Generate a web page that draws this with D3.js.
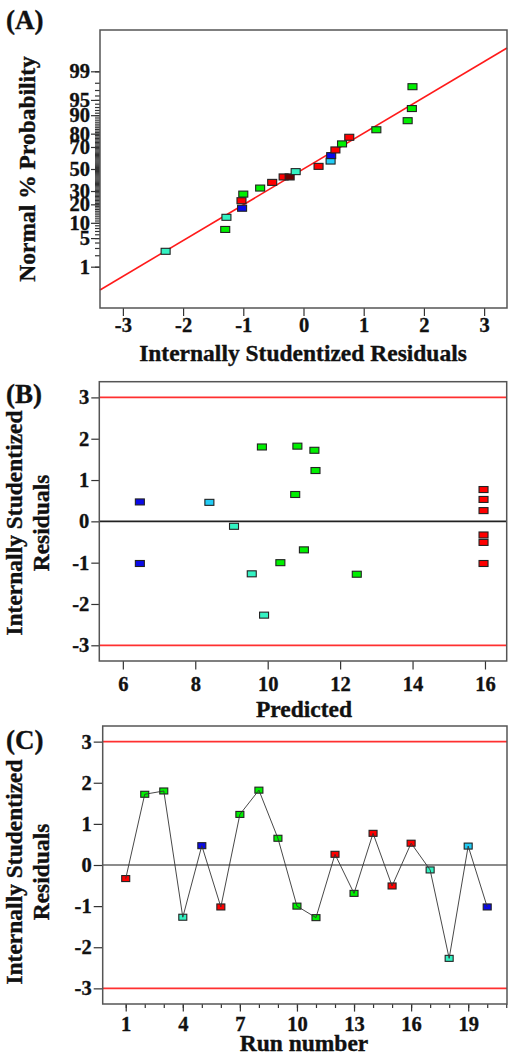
<!DOCTYPE html>
<html>
<head>
<meta charset="utf-8">
<script src="https://cdn.jsdelivr.net/npm/d3@7"></script>
<style>
  body { margin: 0; background: #fff; }
  text { font-family: "Liberation Serif", "Times New Roman", serif; font-weight: bold; fill: #111;
         stroke: #111; stroke-width: 0.35px; }
</style>
</head>
<body>
<svg id="chart" width="508" height="1062"></svg>
<script>
// run data, 20 runs
var runs      = d3.range(1, 21);
var predicted = [15.96, 11.29, 9.84, 9.56, 6.47, 15.96, 11.32, 10.82, 10.76, 10.35,
                 12.46, 15.96, 11.0, 15.96, 15.96, 15.96, 9.07, 9.90, 8.39, 6.47];
var residual  = [-0.33, 1.72, 1.80, -1.27, 0.47, -1.02, 1.23, 1.82, 0.65, -1.00,
                 -1.28, 0.26, -0.69, 0.77, -0.51, 0.53, -0.12, -2.27, 0.46, -1.02];
var runColor  = ["red", "green", "green", "aqua", "blue", "red", "green", "green", "green", "green",
                 "green", "red", "green", "red", "red", "red", "aqua", "aqua", "sky", "blue"];

// normal plot points (residual, % probability) as read
var normRes  = [-2.29, -1.30, -1.28, -1.02, -1.03, -1.00, -0.72, -0.52, -0.33, -0.23, -0.13,
                0.25, 0.45, 0.46, 0.53, 0.64, 0.76, 1.21, 1.73, 1.80, 1.81];
var normProb = [2.5, 7.5, 12.5, 17.5, 22.5, 27.5, 32.5, 37.5, 42.5, 42.5, 47.5,
                52.5, 57.5, 62.5, 67.5, 72.5, 77.5, 82.5, 87.5, 92.5, 97.5];
var normCol  = ["aqua", "green", "aqua", "blue", "red", "green", "green", "red", "red", "dark", "aqua",
                "red", "sky", "blue", "red", "green", "red", "green", "green", "green", "green"];
var fitRes = [-3.38, 3.38];
var fitZ   = [-2.88, 2.88];

var probMajor = [1, 5, 10, 20, 30, 50, 70, 80, 90, 95, 99];
var probMinor = d3.range(1, 100);
var resTicks  = [-3, -2, -1, 0, 1, 2, 3];
var predTicks = [6, 8, 10, 12, 14, 16];
var runMajor  = [1, 4, 7, 10, 13, 16, 19];
var limits    = [-3, 3];

var fills = { red: "#ff0000", green: "#00f000", aqua: "#33f2c2", blue: "#0a0ae8", sky: "#22ccf5", dark: "#6a0000" };

// inverse normal cdf (Acklam)
function probit(p) {
  var a = [-3.969683028665376e+01, 2.209460984245205e+02, -2.759285104469687e+02, 1.383577518672690e+02, -3.066479806614716e+01, 2.506628277459239e+00];
  var b = [-5.447609879822406e+01, 1.615858368580409e+02, -1.556989798598866e+02, 6.680131188771972e+01, -1.328068155288572e+01];
  var c = [-7.784894002430293e-03, -3.223964580411365e-01, -2.400758277161838e+00, -2.549732539343734e+00, 4.374664141464968e+00, 2.938163982698783e+00];
  var d = [7.784695709041462e-03, 3.224671290700398e-01, 2.445134137142996e+00, 3.754408661907416e+00];
  var pl = 0.02425, q, r;
  if (p < pl) {
    q = Math.sqrt(-2 * Math.log(p));
    return (((((c[0]*q+c[1])*q+c[2])*q+c[3])*q+c[4])*q+c[5]) / ((((d[0]*q+d[1])*q+d[2])*q+d[3])*q+1);
  }
  if (p > 1 - pl) {
    q = Math.sqrt(-2 * Math.log(1 - p));
    return -(((((c[0]*q+c[1])*q+c[2])*q+c[3])*q+c[4])*q+c[5]) / ((((d[0]*q+d[1])*q+d[2])*q+d[3])*q+1);
  }
  q = p - 0.5; r = q * q;
  return (((((a[0]*r+a[1])*r+a[2])*r+a[3])*r+a[4])*r+a[5])*q / (((((b[0]*r+b[1])*r+b[2])*r+b[3])*r+b[4])*r+1);
}

var plain = function(d) { return String(d); };  // hyphen, not unicode minus
var tickFs = 20.5;

var svg = d3.select("#chart");
svg.append("rect").attr("width", 508).attr("height", 1062).attr("fill", "#fff");

function styleAxis(g, fs) {
  g.select(".domain").remove();
  g.selectAll(".tick line").attr("stroke", "#333").attr("stroke-width", 1.2);
  g.selectAll(".tick text").style("font-size", fs + "px").attr("fill", "#111");
}

function frame(x0, x1, y0, y1) {
  svg.append("rect").attr("x", x0).attr("y", y0).attr("width", x1 - x0).attr("height", y1 - y0)
    .attr("fill", "none").attr("stroke", "#555").attr("stroke-width", 1.5);
}

function marker(sel, x, y, col, w, h) {
  sel.append("rect")
    .attr("x", x - w / 2).attr("y", y - h / 2).attr("width", w).attr("height", h)
    .attr("fill", fills[col]).attr("stroke", "#222").attr("stroke-width", 1.1);
}

function yTitle(cx, cy, lines) {
  var t = svg.append("text").attr("transform", "translate(" + cx + "," + cy + ") rotate(-90)")
    .attr("text-anchor", "middle").style("font-size", "23.5px");
  lines.forEach(function(s, i) {
    t.append("tspan").attr("x", 0).attr("dy", i ? 27 : 0).text(s);
  });
}

// ---------- (A) normal probability ----------
var ax = d3.scaleLinear().domain([-3.38, 3.38]).range([100, 507]);
var az = d3.scaleLinear().domain([-3.31, 3.31]).range([308, 30]);

var gA = svg.append("g");
gA.append("g").attr("transform", "translate(0,308)")
  .call(d3.axisBottom(ax).tickValues(resTicks).tickSize(8).tickPadding(1.5).tickFormat(plain))
  .call(styleAxis, tickFs);
gA.append("g").attr("transform", "translate(100,0)")
  .call(d3.axisLeft(az).tickValues(probMinor.map(function(p) { return probit(p / 100); })).tickSize(5).tickFormat(""))
  .call(styleAxis, tickFs);
gA.append("g").attr("transform", "translate(100,0)")
  .call(d3.axisLeft(az).tickValues(probMajor.map(function(p) { return probit(p / 100); }))
    .tickSize(9).tickPadding(1).tickFormat(function(d, i) { return probMajor[i]; }))
  .call(styleAxis, tickFs);
frame(100, 507, 30, 308);

gA.append("path")
  .datum(fitRes.map(function(r, i) { return [r, fitZ[i]]; }))
  .attr("fill", "none").attr("stroke", "#ff1a1a").attr("stroke-width", 1.6)
  .attr("d", d3.line().x(function(d) { return ax(d[0]); }).y(function(d) { return az(d[1]); }));

normRes.forEach(function(r, i) {
  marker(gA, ax(r), az(probit(normProb[i] / 100)), normCol[i], 9, 6);
});

svg.append("text").attr("x", 6).attr("y", 29).style("font-size", "27px").text("(A)");
yTitle(35, 169, ["Normal % Probability"]);
svg.append("text").attr("x", 303).attr("y", 360.5).attr("text-anchor", "middle")
  .style("font-size", "23.5px").text("Internally Studentized Residuals");

// ---------- (B) residuals vs predicted ----------
var bx = d3.scaleLinear().domain([5.35, 16.6]).range([99.3, 506.7]);
var by = d3.scaleLinear().domain([-3.38, 3.38]).range([661, 381.7]);

var gB = svg.append("g");
gB.append("g").attr("transform", "translate(0,661)")
  .call(d3.axisBottom(bx).tickValues(predTicks).tickSize(8.5).tickPadding(6.5).tickFormat(plain))
  .call(styleAxis, tickFs);
gB.append("g").attr("transform", "translate(99.3,0)")
  .call(d3.axisLeft(by).tickValues(resTicks).tickSize(8).tickPadding(2).tickFormat(plain))
  .call(styleAxis, tickFs);
frame(99.3, 506.7, 381.7, 661);

limits.forEach(function(v) {
  gB.append("line").attr("x1", 99.3).attr("x2", 506.7).attr("y1", by(v)).attr("y2", by(v))
    .attr("stroke", "#ff3030").attr("stroke-width", 1.8);
});
gB.append("line").attr("x1", 99.3).attr("x2", 506.7).attr("y1", by(0)).attr("y2", by(0))
  .attr("stroke", "#222").attr("stroke-width", 1.8);

runs.forEach(function(r, i) {
  marker(gB, bx(predicted[i]), by(residual[i]), runColor[i], 9, 6);
});

svg.append("text").attr("x", 6).attr("y", 402.5).style("font-size", "27px").text("(B)");
yTitle(22, 523, ["Internally Studentized", "Residuals"]);
svg.append("text").attr("x", 304).attr("y", 716.5).attr("text-anchor", "middle")
  .style("font-size", "23.5px").text("Predicted");

// ---------- (C) residuals vs run ----------
var cx = d3.scaleLinear().domain([-0.21, 21.04]).range([102.7, 507]);
var cy = d3.scaleLinear().domain([-3.38, 3.38]).range([1004, 726]);

var gC = svg.append("g");
gC.append("g").attr("transform", "translate(0,1004)")
  .call(d3.axisBottom(cx).tickValues(runs.concat([21])).tickSize(4).tickFormat(""))
  .call(styleAxis, tickFs);
gC.append("g").attr("transform", "translate(0,1004)")
  .call(d3.axisBottom(cx).tickValues(runMajor).tickSize(7.6).tickPadding(4.5).tickFormat(plain))
  .call(styleAxis, tickFs);
gC.append("g").attr("transform", "translate(102.7,0)")
  .call(d3.axisLeft(cy).tickValues(resTicks).tickSize(9).tickPadding(2).tickFormat(plain))
  .call(styleAxis, tickFs);
frame(102.7, 507, 726, 1004);

limits.forEach(function(v) {
  gC.append("line").attr("x1", 102.7).attr("x2", 507).attr("y1", cy(v)).attr("y2", cy(v))
    .attr("stroke", "#ff3030").attr("stroke-width", 1.8);
});
gC.append("line").attr("x1", 102.7).attr("x2", 507).attr("y1", cy(0)).attr("y2", cy(0))
  .attr("stroke", "#666").attr("stroke-width", 1.4);

runs.forEach(function(r, i) {
  marker(gC, cx(r), cy(residual[i]), runColor[i], 8, 6);
});
gC.append("path").datum(runs)
  .attr("fill", "none").attr("stroke", "#333").attr("stroke-width", 0.9)
  .attr("d", d3.line().x(function(r) { return cx(r); }).y(function(r, i) { return cy(residual[i]); }));

svg.append("text").attr("x", 6).attr("y", 749).style("font-size", "27px").text("(C)");
yTitle(22, 872, ["Internally Studentized", "Residuals"]);
svg.append("text").attr("x", 304).attr("y", 1051).attr("text-anchor", "middle")
  .style("font-size", "23.5px").text("Run number");
</script>
</body>
</html>
